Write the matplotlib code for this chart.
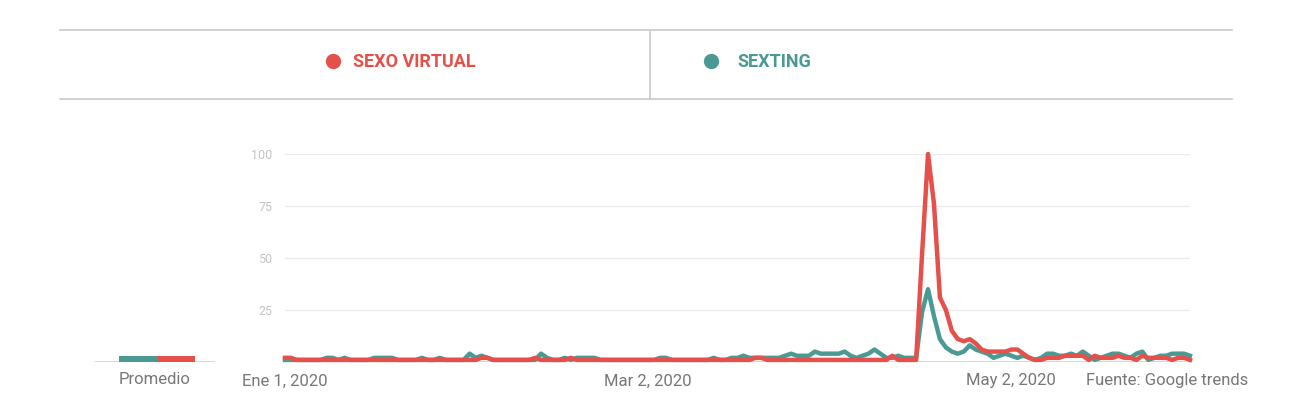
import numpy as np
import matplotlib
matplotlib.use('Agg')
import matplotlib.pyplot as plt
from matplotlib.lines import Line2D

# Google Trends, interes diario (1 ene 2020 - 1 jun 2020)
series_names = ['SEXO VIRTUAL', 'SEXTING']
colors = ['#e5504a', '#4a9a93']

sexo_virtual = [
    2, 2, 1, 1, 1, 1, 1,
    1, 1, 1, 1, 1, 1, 1,
    1, 1, 1, 1, 1, 1, 1,
    1, 1, 1, 1, 1, 1, 1,
    1, 1, 1, 1, 1, 2, 2,
    1, 1, 1, 1, 1, 1, 1,
    2, 1, 1, 1, 1, 1, 2,
    1, 1, 1, 1, 1, 1, 1,
    1, 1, 1, 1, 1, 1, 1,
    1, 1, 1, 1, 1, 1, 1,
    1, 1, 1, 1, 1, 1, 1,
    1, 1, 2, 2, 1, 1, 1,
    1, 1, 1, 1, 1, 1, 1,
    1, 1, 1, 1, 1, 1, 1,
    1, 1, 1, 1, 3, 1, 1,
    1, 1, 52, 100,
    76, 31, 25, 15, 11, 10, 11,
    9, 6, 5, 5, 5, 5, 6,
    6, 4, 2, 1, 1, 2, 2,
    2, 3, 3, 3, 3, 1, 3,
    2, 2, 2, 3, 2, 2, 1,
    3, 2, 2, 2, 2, 1, 2,
    2, 1,
]

sexting = [
    1, 1, 1, 1, 1, 1, 1,
    2, 2, 1, 2, 1, 1, 1,
    1, 2, 2, 2, 2, 1, 1,
    1, 1, 2, 1, 1, 2, 1,
    1, 1, 1, 4, 2, 3, 2,
    1, 1, 1, 1, 1, 1, 1,
    1, 4, 2, 1, 1, 2, 1,
    2, 2, 2, 2, 1, 1, 1,
    1, 1, 1, 1, 1, 1, 1,
    2, 2, 1, 1, 1, 1, 1,
    1, 1, 2, 1, 1, 2, 2,
    3, 2, 2, 2, 2, 2, 2,
    3, 4, 3, 3, 3, 5, 4,
    4, 4, 4, 5, 3, 2, 3,
    4, 6, 4, 2, 2, 3, 2,
    2, 2, 24, 35,
    22, 11, 7, 5, 4, 5, 8,
    6, 5, 4, 2, 3, 4, 3,
    2, 3, 2, 1, 2, 4, 4,
    3, 3, 4, 3, 5, 3, 1,
    2, 3, 4, 4, 3, 2, 4,
    5, 1, 2, 3, 3, 4, 4,
    4, 3,
]

promedio = [3, 3]   # sexting, sexo virtual
x_ticks = [0, 61, 122]
x_labels = ['Ene 1, 2020', 'Mar 2, 2020', 'May 2, 2020']
y_ticks = [25, 50, 75, 100]

plt.rcParams['font.family'] = ['Roboto', 'DejaVu Sans']

W, H = 1294, 407
fig = plt.figure(figsize=(W / 100, H / 100), dpi=100)


def fx(px):
    return px / W


def fy(py):
    return 1 - py / H


# main chart
x0, x1, y0, y1 = 285, 1190, 362, 154
ax = fig.add_axes([fx(x0), fy(y0), fx(x1 - x0), (y0 - y1) / H])
days = np.arange(len(sexo_virtual))
ax.plot(days, sexting, color=colors[1], lw=3.2, solid_joinstyle='round', clip_on=False, zorder=3)
ax.plot(days, sexo_virtual, color=colors[0], lw=3.2, solid_joinstyle='round', clip_on=False, zorder=4)
ax.set_xlim(0, len(days) - 1)
ax.set_ylim(0, 100)
ax.set_yticks(y_ticks)
ax.set_yticklabels([str(v) for v in y_ticks], color='#c4c4c4', fontsize=9)
ax.set_xticks([])
ax.tick_params(axis='y', length=0, pad=9)
ax.grid(axis='y', color='#ebebeb', lw=1)
ax.axhline(0, color='#d0d0d0', lw=1.2, zorder=2)
for s in ax.spines.values():
    s.set_visible(False)

for t, lab in zip(x_ticks, x_labels):
    px = x0 + t * (x1 - x0) / (len(days) - 1)
    fig.text(fx(px), fy(381), lab, ha='center', va='center', fontsize=12, color='#777777')
fig.text(fx(1248), fy(381), 'Fuente: Google trends', ha='right', va='center', fontsize=12, color='#777777')

# promedio
axp = fig.add_axes([fx(95), fy(y0), fx(120), (y0 - y1) / H])
axp.bar([0, 1], promedio, width=1, color=[colors[1], colors[0]], zorder=3)
axp.set_xlim(-1.13, 2.03)
axp.set_ylim(0, 100)
axp.axhline(0, color='#d0d0d0', lw=1.2, zorder=2)
axp.axis('off')
fig.text(fx(155), fy(380), 'Promedio', ha='center', va='center', fontsize=12, color='#777777')

# legend strip
lc = '#c8c8c8'
fig.add_artist(Line2D([fx(60), fx(1232)], [fy(30), fy(30)], color=lc, lw=1.2))
fig.add_artist(Line2D([fx(60), fx(1232)], [fy(99), fy(99)], color=lc, lw=1.2))
fig.add_artist(Line2D([fx(650), fx(650)], [fy(32), fy(99)], color=lc, lw=1.2))
for (dot_x, txt_x, name, c) in [(333, 353, series_names[0], colors[0]),
                                (711, 737, series_names[1], colors[1])]:
    fig.add_artist(Line2D([fx(dot_x)], [fy(61)], marker='o', ms=10, color=c, lw=0))
    fig.text(fx(txt_x), fy(62), name, ha='left', va='center', fontsize=13,
             fontweight='bold', color=c)

fig.savefig('out.png', dpi=100)
